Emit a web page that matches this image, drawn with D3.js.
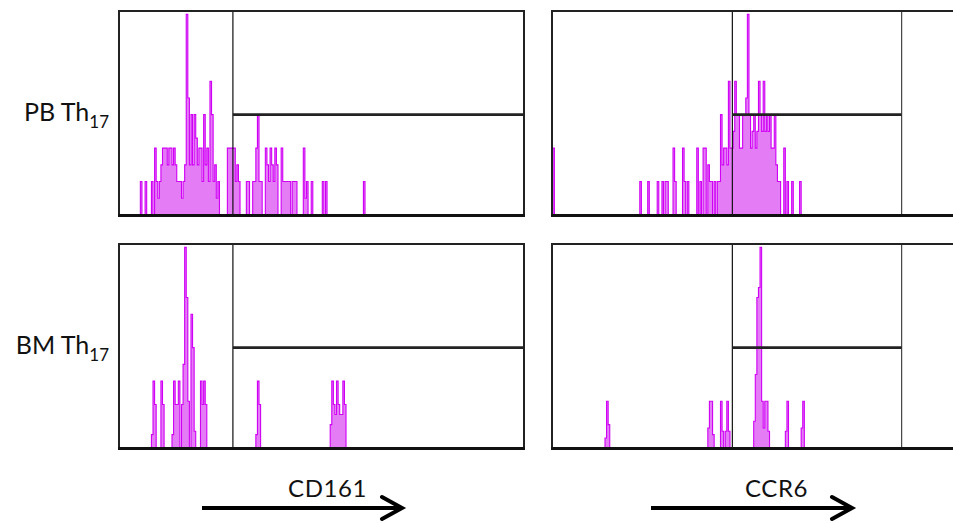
<!DOCTYPE html>
<html>
<head>
<meta charset="utf-8">
<script src="https://cdn.jsdelivr.net/npm/d3@7"></script>
<style>
  html, body { margin: 0; padding: 0; background: #fff; overflow: hidden; }
  svg { display: block; }
  text { font-family: Lato, "Open Sans", sans-serif; fill: #111; }
</style>
</head>
<body>
<svg id="chart" width="953" height="523"></svg>
<script>
// Flow cytometry histograms: Th17 cells from peripheral blood (PB) and bone marrow (BM)
// Each series is a sparse list of [channel, event count]; channels not listed hold 0.
const CHANNELS = 256;
const MAX_COUNT = 6.1;

const pbCD161 = [
  [14,1],[17,1],[21,1],[23,2],[24,1],[25,0.5],[26,1],[27,1.5],[28,2],[29,2],[30,2],[31,1.5],
  [32,2],[33,2],[34,1.5],[35,2],[36,1.5],[37,1],[38,1],[39,1],[40,0.5],[41,1],[42,1.5],
  [43,6],[44,3.5],[45,1.5],[46,3],[47,1.5],[48,3],[49,2.3],[50,1.5],[51,2],[52,2],[53,1],
  [54,3],[55,1.5],[56,2],[57,1],[58,4],[59,3],[60,1],[61,1.5],[62,0.5],[63,1],
  [69,2],[70,2],[71,2],[72,2],[73,2],[74,1],[75,1.5],[76,1],[81,1],[82,1],[85,1],[86,1],
  [87,2],[88,3],[89,1],[90,1],[93,2],[94,1.5],[95,1],[96,2],[97,1.5],[98,1],[99,2],[100,1.5],
  [103,2],[104,1],[105,1],[106,1],[107,1],[108,1],[110,1],[111,1],[112,1],[117,2],[118,0.5],
  [119,1],[122,1],[129,1],[131,1],[155,1]
];

const pbCCR6 = [
  [1,2],[56,1],[61,1],[67,1],[70,1],[72,1],[73,1],[77,2],[78,1],[83,2],[84,1],[86,1],
  [92,2],[94,1],[96,2],[97,2],[99,1.5],[100,1],[101,1],[103,1],[105,1],[106,1],
  [107,3],[108,1.5],[109,2],[110,2],[111,1.5],[112,4],[113,2],[114,2],[115,2.5],[116,4],
  [117,3],[118,3],[119,2],[120,2],[121,3],[122,3],[123,3.5],[124,6],[125,3],[126,2],
  [127,2.5],[128,3],[129,2],[130,2.5],[131,4],[132,3],[133,2.5],[134,4],[135,2.5],[136,3],
  [137,2.5],[138,3],[139,2],[140,2],[141,3],[142,1.5],[143,1],[144,1],[147,2],[149,1],
  [152,1],[157,1]
];

const bmCD161 = [
  [21,0.4],[22,2],[23,1.3],[27,2],[28,1.3],[34,0.4],[35,2],[36,1.3],[37,1.3],[38,2],
  [40,1.3],[41,2.5],[42,6],[43,4.5],[44,1.4],[46,4],[47,3],[48,0.5],
  [52,2],[53,1.3],[54,2],[55,1.3],[87,0.4],[88,2],[89,1.3],
  [134,0.7],[135,2],[136,1.3],[137,1],[138,2],[139,1.3],[140,1],[141,1],[142,2],[143,1.3]
];

const bmCCR6 = [
  [34,0.3],[35,1.4],[36,0.7],[99,0.6],[100,1.4],[101,1.4],[102,0.4],[107,1.4],[108,0.5],
  [110,0.5],[111,1.4],[112,0.5],[128,0.8],[129,2.2],[130,4.5],[131,4.8],[132,6],[133,1.4],
  [134,0.6],[135,1.4],[136,1.4],[137,0.5],[148,0.5],[149,1.4],[158,0.6],[159,1.4]
];

// Gates: positive-region start/end channel and the count threshold line
const cd161Gate = [72, 256];
const ccr6Gate = [114, 221];
const gateCount = 3;

const rowNames = ["PB", "BM"];
const markerNames = ["CD161", "CCR6"];

const panels = [
  { row: 0, col: 0, data: pbCD161, gate: cd161Gate, end: false },
  { row: 0, col: 1, data: pbCCR6,  gate: ccr6Gate,  end: true },
  { row: 1, col: 0, data: bmCD161, gate: cd161Gate, end: false },
  { row: 1, col: 1, data: bmCCR6,  gate: ccr6Gate,  end: true }
];

const colLeft = [119, 552];
const rowTop = [11, 244];
const PW = 405, PH = 204;

const svg = d3.select("#chart");
const defs = svg.append("defs");

panels.forEach((p, i) => {
  const x0 = colLeft[p.col], y0 = rowTop[p.row];
  const x = d3.scaleLinear().domain([0, CHANNELS]).range([x0, x0 + PW]);
  const y = d3.scaleLinear().domain([0, MAX_COUNT]).range([y0 + PH, y0]);

  const counts = d3.range(CHANNELS + 1).map(c => ({ c, n: 0 }));
  p.data.forEach(([c, n]) => { counts[c].n = n; });

  defs.append("clipPath").attr("id", "clip" + i)
    .append("rect").attr("x", x0).attr("y", y0).attr("width", PW).attr("height", PH);

  const g = svg.append("g");
  const h = g.append("g").attr("clip-path", `url(#clip${i})`);

  h.append("path").datum(counts)
    .attr("d", d3.area().curve(d3.curveStep).x(d => x(d.c)).y0(y(0)).y1(d => y(d.n)))
    .attr("fill", "#e47cf5");
  h.append("path").datum(counts)
    .attr("d", d3.line().curve(d3.curveStep).x(d => x(d.c)).y(d => y(d.n)))
    .attr("fill", "none").attr("stroke", "#d000f5").attr("stroke-width", 1.1);

  // gate lines
  g.append("line")
    .attr("x1", x(p.gate[0])).attr("x2", x(p.gate[0]))
    .attr("y1", y0).attr("y2", y0 + PH)
    .attr("stroke", "#111").attr("stroke-width", 1.2);
  if (p.end) {
    g.append("line")
      .attr("x1", x(p.gate[1])).attr("x2", x(p.gate[1]))
      .attr("y1", y0).attr("y2", y0 + PH)
      .attr("stroke", "#444").attr("stroke-width", 1.2);
  }
  g.append("line")
    .attr("x1", x(p.gate[0])).attr("x2", x(p.gate[1]))
    .attr("y1", y(gateCount)).attr("y2", y(gateCount))
    .attr("stroke", "#222").attr("stroke-width", 2.6);

  // frame and baseline
  g.append("rect")
    .attr("x", x0).attr("y", y0).attr("width", PW).attr("height", PH)
    .attr("fill", "none").attr("stroke", "#222").attr("stroke-width", 2);
  g.append("line")
    .attr("x1", x0 - 1).attr("x2", x0 + PW + 1)
    .attr("y1", y(0) + 0.5).attr("y2", y(0) + 0.5)
    .attr("stroke", "#111").attr("stroke-width", 3);
});

// row labels with subscript
rowNames.forEach((name, r) => {
  const cy = rowTop[r] + PH / 2;
  const t = svg.append("text")
    .attr("x", 109).attr("y", cy + 8)
    .attr("text-anchor", "end")
    .style("font-size", "25px");
  t.append("tspan").text(name + " Th");
  t.append("tspan").attr("dy", 7).style("font-size", "17px").text("17");
});

// marker arrows with labels
const arrows = [
  { label: markerNames[0], x1: 202, x2: 402, tx: 288 },
  { label: markerNames[1], x1: 651, x2: 852, tx: 745 }
];
arrows.forEach(a => {
  const ay = 508;
  svg.append("line")
    .attr("x1", a.x1).attr("x2", a.x2 - 2).attr("y1", ay).attr("y2", ay)
    .attr("stroke", "#000").attr("stroke-width", 4);
  svg.append("path")
    .attr("d", `M${a.x2 - 20},${ay - 11} L${a.x2},${ay} L${a.x2 - 20},${ay + 11}`)
    .attr("fill", "none").attr("stroke", "#000").attr("stroke-width", 4)
    .attr("stroke-linecap", "round").attr("stroke-linejoin", "miter");
  svg.append("text")
    .attr("x", a.tx).attr("y", 497)
    .style("font-size", "24px")
    .style("letter-spacing", "0.6px")
    .text(a.label);
});
</script>
</body>
</html>
